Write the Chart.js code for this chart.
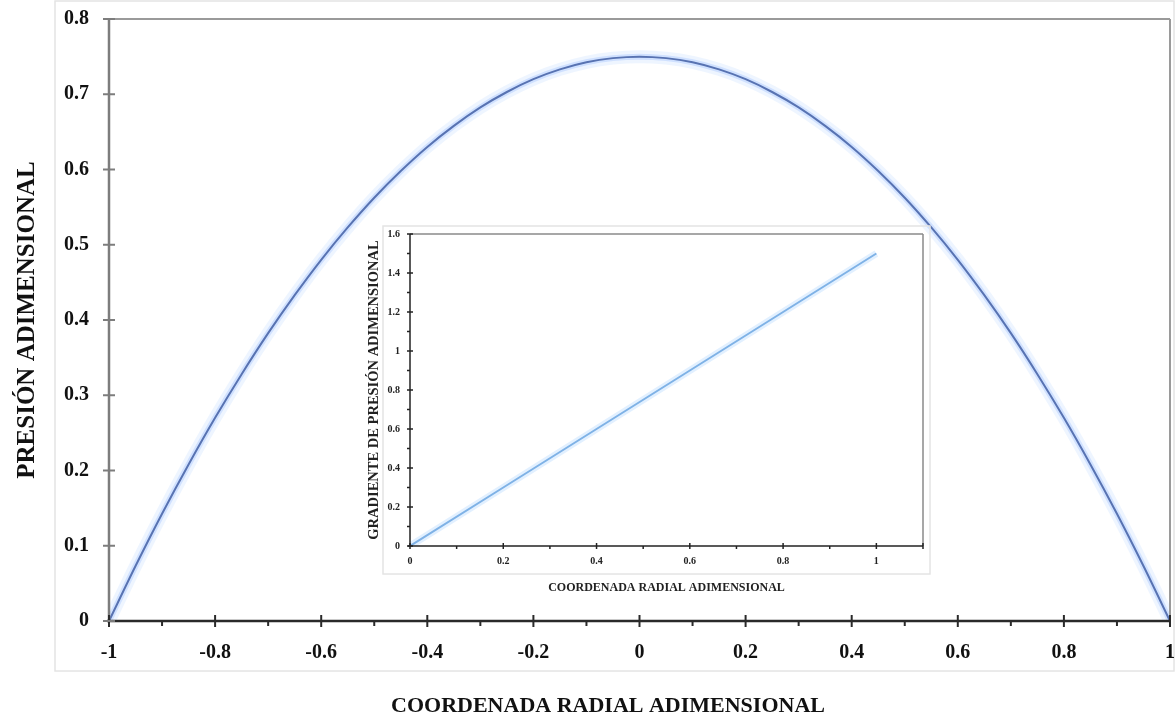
<!DOCTYPE html>
<html>
<head>
<meta charset="utf-8">
<script src="https://cdn.jsdelivr.net/npm/chart.js@4.4.1/dist/chart.umd.min.js"></script>
<style>
  html, body { margin: 0; padding: 0; background: #fff; }
  #wrap { position: relative; width: 1175px; height: 717px; }
  #main { position: absolute; left: 0; top: 0; }
  #inset { position: absolute; left: 360px; top: 222px; }
</style>
</head>
<body>
<div id="wrap">
  <canvas id="main" width="1175" height="717"></canvas>
  <canvas id="inset" width="580" height="380"></canvas>
</div>
<script>
// main curve
const radialX = [-1, -0.95, -0.9, -0.85, -0.8, -0.75, -0.7, -0.65, -0.6, -0.55, -0.5,
  -0.45, -0.4, -0.35, -0.3, -0.25, -0.2, -0.15, -0.1, -0.05, 0,
  0.05, 0.1, 0.15, 0.2, 0.25, 0.3, 0.35, 0.4, 0.45, 0.5,
  0.55, 0.6, 0.65, 0.7, 0.75, 0.8, 0.85, 0.9, 0.95, 1];
const pressure = [0, 0.073, 0.1425, 0.208, 0.27, 0.328, 0.3825, 0.433, 0.48, 0.523, 0.5625,
  0.598, 0.63, 0.658, 0.6825, 0.703, 0.72, 0.733, 0.7425, 0.748, 0.75,
  0.748, 0.7425, 0.733, 0.72, 0.703, 0.6825, 0.658, 0.63, 0.598, 0.5625,
  0.523, 0.48, 0.433, 0.3825, 0.328, 0.27, 0.208, 0.1425, 0.073, 0];

// inset line
const insetX = [0, 0.2, 0.4, 0.6, 0.8, 1];
const pressureGradient = [0, 0.3, 0.6, 0.9, 1.2, 1.5];

const mainTitleX = "COORDENADA RADIAL ADIMENSIONAL";
const mainTitleY = "PRESIÓN ADIMENSIONAL";
const insetTitleX = "COORDENADA RADIAL ADIMENSIONAL";
const insetTitleY = "GRADIENTE DE PRESIÓN ADIMENSIONAL";

const serif = "'Liberation Serif', 'Times New Roman', serif";
Chart.defaults.font.family = serif;
Chart.defaults.font.weight = "bold";
Chart.defaults.color = "#111";

const toPoints = (xs, ys) => xs.map((x, i) => ({ x, y: ys[i] }));
const fmt = (v) => String(Math.round(v * 10) / 10);

// fixed axis sizes, no extra label padding so the plot area lands where it should
const fixX = (h) => (s) => { s.height = h; s.paddingLeft = 0; s.paddingRight = 0; };
const fixY = (w) => (s) => { s.width = w; s.paddingTop = 0; s.paddingBottom = 0; };

// excel style frame: axis lines, crossing major ticks, minor ticks, top/right border
const framePlugin = {
  id: "frame",
  beforeDraw(chart, args, o) {
    if (!o.box) return;
    const ctx = chart.ctx;
    ctx.save();
    ctx.strokeStyle = "#e4e4e4";
    ctx.lineWidth = 1.5;
    ctx.strokeRect(o.box[0], o.box[1], o.box[2] - o.box[0], o.box[3] - o.box[1]);
    ctx.restore();
  },
  afterDraw(chart, args, o) {
    const { ctx, chartArea: a, scales: { x, y } } = chart;
    const line = (x1, y1, x2, y2, color, w) => {
      ctx.beginPath();
      ctx.strokeStyle = color;
      ctx.lineWidth = w;
      ctx.moveTo(x1, y1);
      ctx.lineTo(x2, y2);
      ctx.stroke();
    };
    ctx.save();
    line(a.left, a.top, a.right, a.top, o.borderColor, o.borderWidth);
    line(a.right, a.top, a.right, a.bottom, o.borderColor, o.borderWidth);
    line(a.left, a.top, a.left, a.bottom, o.yColor, o.axisWidth);
    line(a.left - 2, a.bottom, a.right, a.bottom, o.xColor, o.axisWidth);

    const xt = x.ticks.map(t => t.value);
    xt.forEach(v => {
      const px = x.getPixelForValue(v);
      line(px, a.bottom - o.major, px, a.bottom + o.major, o.xColor, o.tickWidth);
    });
    for (let i = 0; i < xt.length - 1; i++) {
      const px = x.getPixelForValue((xt[i] + xt[i + 1]) / 2);
      line(px, a.bottom, px, a.bottom + o.minor, o.xColor, o.tickWidth);
    }
    if (o.xEnd) line(a.right, a.bottom - o.major, a.right, a.bottom + o.major, o.xColor, o.tickWidth);

    const yt = y.ticks.map(t => t.value);
    yt.forEach(v => {
      const py = y.getPixelForValue(v);
      line(a.left - o.major, py, a.left + o.major, py, o.yColor, o.tickWidth);
    });
    if (o.yMinor) {
      for (let i = 0; i < yt.length - 1; i++) {
        const py = y.getPixelForValue((yt[i] + yt[i + 1]) / 2);
        line(a.left - o.minor, py, a.left, py, o.yColor, o.tickWidth);
      }
    }

    if (o.xTitle) {
      ctx.fillStyle = "#111";
      ctx.font = "bold " + o.xTitle.size + "px " + serif;
      ctx.textAlign = "center";
      ctx.textBaseline = "alphabetic";
      ctx.fillText(o.xTitle.text, o.xTitle.x, o.xTitle.y);
    }
    ctx.restore();
  }
};

new Chart(document.getElementById("main"), {
  type: "line",
  data: {
    datasets: [
      {
        data: toPoints(radialX, pressure),
        borderColor: "#5873b2",
        borderWidth: 2,
        pointRadius: 0,
        tension: 0.3
      },
      {
        data: toPoints(radialX, pressure),
        borderColor: "rgba(140, 180, 255, 0.3)",
        borderWidth: 6,
        pointRadius: 0,
        tension: 0.3
      },
      {
        data: toPoints(radialX, pressure),
        borderColor: "rgba(150, 190, 255, 0.16)",
        borderWidth: 13,
        pointRadius: 0,
        tension: 0.3
      }
    ]
  },
  options: {
    responsive: false,
    animation: false,
    layout: { padding: { top: 19, right: 5, left: 0, bottom: 0 } },
    plugins: {
      legend: { display: false },
      tooltip: { enabled: false },
      frame: {
        box: [55, 1, 1174, 671],
        borderColor: "#9a9a9a",
        borderWidth: 2,
        yColor: "#7d7d7d",
        xColor: "#2a2a2a",
        axisWidth: 2.5,
        tickWidth: 2,
        major: 6,
        minor: 5,
        yMinor: false,
        xTitle: { text: mainTitleX, x: 608, y: 712, size: 22 }
      }
    },
    scales: {
      x: {
        type: "linear",
        min: -1,
        max: 1,
        border: { display: false },
        grid: { display: false, drawTicks: false },
        ticks: { stepSize: 0.2, padding: 20, font: { size: 20 }, color: "#111", callback: fmt },
        afterFit: fixX(96)
      },
      y: {
        type: "linear",
        min: 0,
        max: 0.8,
        border: { display: false },
        grid: { display: false, drawTicks: false },
        ticks: { stepSize: 0.1, padding: 20, font: { size: 20 }, color: "#111", callback: fmt },
        title: { display: true, text: mainTitleY, font: { size: 25 }, color: "#111", padding: { top: 13, bottom: 0 } },
        afterFit: fixY(109)
      }
    }
  },
  plugins: [framePlugin]
});

new Chart(document.getElementById("inset"), {
  type: "line",
  data: {
    datasets: [
      {
        data: toPoints(insetX, pressureGradient),
        borderColor: "#7fb2e6",
        borderWidth: 2,
        pointRadius: 0
      },
      {
        data: toPoints(insetX, pressureGradient),
        borderColor: "rgba(160, 205, 255, 0.3)",
        borderWidth: 7,
        pointRadius: 0
      }
    ]
  },
  options: {
    responsive: false,
    animation: false,
    layout: { padding: { top: 12, right: 17, left: 0, bottom: 0 } },
    plugins: {
      legend: { display: false },
      tooltip: { enabled: false },
      frame: {
        box: [23, 4, 570, 352],
        borderColor: "#8a8a8a",
        borderWidth: 1.5,
        yColor: "#222",
        xColor: "#222",
        axisWidth: 1.5,
        tickWidth: 1.5,
        major: 3,
        minor: 3,
        yMinor: true,
        xEnd: true
      }
    },
    scales: {
      x: {
        type: "linear",
        min: 0,
        max: 1.1,
        border: { display: false },
        grid: { display: false, drawTicks: false },
        ticks: { stepSize: 0.2, includeBounds: false, padding: 9, font: { size: 10 }, color: "#222", callback: fmt },
        title: { display: true, text: insetTitleX, font: { size: 12 }, color: "#222", padding: { top: 0, bottom: 7 } },
        afterFit: fixX(56)
      },
      y: {
        type: "linear",
        min: 0,
        max: 1.6,
        border: { display: false },
        grid: { display: false, drawTicks: false },
        ticks: { stepSize: 0.2, padding: 10, font: { size: 10 }, color: "#222", callback: fmt },
        title: { display: true, text: insetTitleY, font: { size: 14.5 }, color: "#222", padding: { top: 6, bottom: 0 } },
        afterFit: fixY(50)
      }
    }
  },
  plugins: [framePlugin]
});
</script>
</body>
</html>
